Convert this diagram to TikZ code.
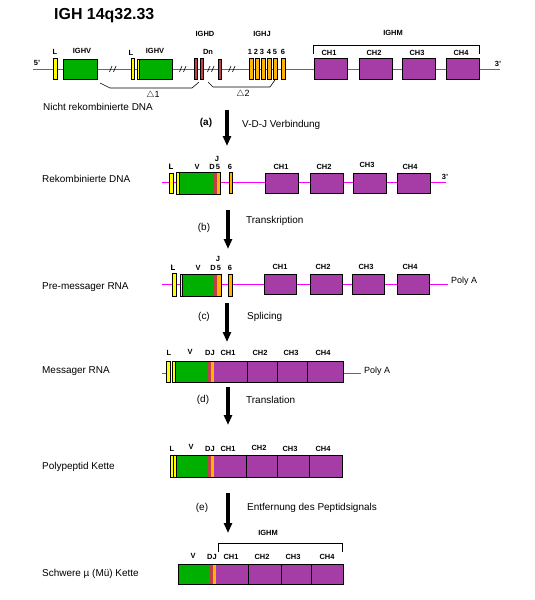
\documentclass[tikz,border=0pt]{standalone}
\usepackage{fontspec}
\setmainfont{Liberation Sans}
\usetikzlibrary{positioning,arrows.meta}
\definecolor{lgelb}{HTML}{FFFF00}
\definecolor{vgruen}{HTML}{00B000}
\definecolor{drot}{HTML}{BF4048}
\definecolor{jorange}{HTML}{FFB400}
\definecolor{clila}{HTML}{A63CA6}
\definecolor{dnalinie}{HTML}{FF00FF}
\tikzset{
dna/.style={draw=dnalinie, line width=1.3bp},
rand/.style={draw=black, line width=0.7pt},
lbl/.style={font=\fontsize{7.5}{8}\selectfont\bfseries, inner sep=0pt},
zeile/.style={anchor=west, font=\fontsize{10}{12}\selectfont, inner sep=0pt},
schritt/.style={anchor=west, font=\fontsize{10}{12}\selectfont, inner sep=0pt},
buchst/.style={font=\fontsize{10}{12}\selectfont, inner sep=0pt},
conv/.style={line width=4pt, -{Triangle[length=10pt,width=8pt]}},
bruch/.style={draw=black, line width=0.6pt}
}
\newcommand{\seg}[5]{\fill[#1] (#2,#4) rectangle (#3,#5);}
\newcommand{\exbox}[5]{\filldraw[rand, fill=#1] (#2,#4) rectangle (#3,#5);}
\newcommand{\brk}[1]{\draw[bruch] (#1-3.5,72) -- (#1-1,66) (#1+0.5,72) -- (#1+3,66);}
\begin{document}
\begin{tikzpicture}[x=1bp,y=-1bp]
\useasboundingbox (0,0) rectangle (535,600);
\fill[white] (0,0) rectangle (535,600);

\node[font=\fontsize{16}{18}\selectfont\bfseries, inner sep=0pt, anchor=west] (titel) at (54,16) {IGH 14q32.33};

% nicht rekombiniert
\coordinate (s1) at (33,69.5);
\coordinate (e1) at (500,69.5);
\draw[dna] (s1) -- (e1);
\exbox{lgelb}{53}{57}{58}{79}
\exbox{vgruen}{63}{97}{59}{79}
\exbox{lgelb}{131}{134}{58}{79}
\seg{lgelb}{137}{139}{59}{79}
\seg{vgruen}{139}{172}{59}{79}
\draw[rand] (137,59) rectangle (172,79) (139,59) -- (139,79);
\brk{113} \brk{183} \brk{211} \brk{232}
\exbox{drot}{194}{197}{58}{79}
\exbox{drot}{200}{203}{58}{79}
\exbox{drot}{218}{221}{59}{79}
\foreach \x in {249,255,261,267,273,281}
  \exbox{jorange}{\x}{\x+4}{58}{79}
\foreach \x in {314,359,402,446}
  \exbox{clila}{\x}{\x+33}{58}{79}
\draw[rand] (313,54) -- (313,45) -- (479,45) -- (479,54);
\draw[black, line width=0.6pt] (100,83) -- (110,88) -- (192,88) -- (199,82);
\draw[black, line width=0.6pt] (208,82) -- (213,87) -- (270,87) -- (275,80);
\node[lbl] (p5) at (37,63) {5'};
\node[lbl] (p3) at (498,64) {3'};
\node[lbl] (l1) at (55,52) {L};
\node[lbl] (v1) at (82,51) {IGHV};
\node[lbl] (l2) at (131,53) {L};
\node[lbl] (v2) at (155,51) {IGHV};
\node[lbl] (dh) at (205,34) {IGHD};
\node[lbl] (dn) at (208,52) {Dn};
\node[lbl] (jh) at (262,34) {IGHJ};
\foreach \x/\n in {250/1,256/2,262/3,269/4,275/5,283/6}
  \node[lbl] (j\n) at (\x,52) {\n};
\node[lbl] (mh) at (393,33) {IGHM};
\foreach \x/\n in {329/1,374/2,417/3,461/4}
  \node[lbl] (ch\n) at (\x,53) {CH\n};
\node[font=\fontsize{9}{10}\selectfont, inner sep=0pt] (d1) at (153,95) {$\triangle$1};
\node[font=\fontsize{9}{10}\selectfont, inner sep=0pt] (d2) at (243,94) {$\triangle$2};
\node[zeile] (z1) at (43,107) {Nicht rekombinierte DNA};

% (a)
\coordinate (a0) at (227,110);
\coordinate (a1) at (227,146);
\draw[conv] (a0) -- (a1);
\node[buchst, font=\fontsize{10}{12}\selectfont\bfseries] (ba) at (206,123) {(a)};
\node[schritt] (ta) at (242,125) {V-D-J Verbindung};

% rekombiniert
\coordinate (s2) at (162,182.5);
\coordinate (e2) at (446,182.5);
\draw[dna] (s2) -- (e2);
\exbox{lgelb}{169}{173}{173}{193}
\seg{lgelb}{176}{179}{172}{194}
\seg{vgruen}{179}{213}{172}{194}
\seg{drot}{213}{217}{172}{194}
\seg{jorange}{217}{220}{172}{194}
\draw[rand] (176,172) rectangle (220,194) (179,172) -- (179,194);
\exbox{jorange}{229}{232}{172}{193}
\foreach \x in {265,310,353,397}
  \exbox{clila}{\x}{\x+33}{173}{193}
\node[lbl] (rl) at (171,167) {L};
\node[lbl] (rv) at (197,167) {V};
\node[lbl] (rd) at (212,167) {D};
\node[lbl] (r5) at (218,167) {5};
\node[lbl] (rj) at (217,159) {J};
\node[lbl] (r6) at (230,167) {6};
\foreach \x/\n/\y in {281/1/167,324/2/167,367/3/165,410/4/167}
  \node[lbl] (rch\n) at (\x,\y) {CH\n};
\node[lbl] (r3) at (445,177) {3'};
\node[zeile] (z2) at (42,179) {Rekombinierte DNA};

% (b)
\coordinate (b0) at (228,210);
\coordinate (b1) at (228,249);
\draw[conv] (b0) -- (b1);
\node[buchst] (bb) at (204,228) {(b)};
\node[schritt] (tb) at (246,221) {Transkription};

% pre-messager
\coordinate (s3) at (162,284.5);
\coordinate (e3) at (448,284.5);
\draw[dna] (s3) -- (e3);
\exbox{lgelb}{172}{176}{273}{296}
\seg{lgelb}{180}{182}{274}{296}
\seg{vgruen}{182}{214}{274}{296}
\seg{drot}{214}{217}{274}{296}
\seg{jorange}{217}{221}{274}{296}
\draw[rand] (180,274) rectangle (221,296) (182,274) -- (182,296);
\exbox{jorange}{228}{232}{274}{296}
\foreach \x in {264,310,352,397}
  \exbox{clila}{\x}{\x+32}{274}{294}
\node[lbl] (pl) at (173,268) {L};
\node[lbl] (pv) at (198,268) {V};
\node[lbl] (pd) at (213,268) {D};
\node[lbl] (p5b) at (219,268) {5};
\node[lbl] (pj) at (218,259) {J};
\node[lbl] (p6) at (230,268) {6};
\foreach \x/\n in {280/1,323/2,366/3,410/4}
  \node[lbl] (pch\n) at (\x,267) {CH\n};
\node[schritt, font=\fontsize{9}{10}\selectfont] (pa1) at (451,281) {Poly A};
\node[zeile] (z3) at (42,287) {Pre-messager RNA};

% (c)
\coordinate (c0) at (227,303);
\coordinate (c1) at (227,342);
\draw[conv] (c0) -- (c1);
\node[buchst] (bc) at (204,317) {(c)};
\node[schritt] (tc) at (247,317) {Splicing};

% messager
\coordinate (s4) at (162,373.5);
\coordinate (e4) at (361,373.5);
\draw[dna] (s4) -- (166,373.5) (343,373.5) -- (e4);
\exbox{lgelb}{166}{170}{361}{382}
\seg{lgelb}{172}{175}{361}{382}
\seg{vgruen}{175}{207}{361}{382}
\seg{drot}{207}{211}{361}{382}
\seg{jorange}{211}{214}{361}{382}
\seg{clila}{214}{343}{361}{382}
\draw[rand] (172,361) rectangle (343,382);
\foreach \x in {175,247,277,307}
  \draw[rand] (\x,361) -- (\x,382);
\node[lbl] (ml) at (169,353) {L};
\node[lbl] (mv) at (190,352) {V};
\node[lbl] (mdj) at (210,353) {DJ};
\foreach \x/\n in {228/1,260/2,291/3,323/4}
  \node[lbl] (mch\n) at (\x,353) {CH\n};
\node[schritt, font=\fontsize{9}{10}\selectfont] (pa2) at (364,371) {Poly A};
\node[zeile] (z4) at (42,371) {Messager RNA};

% (d)
\coordinate (d0) at (228,387);
\coordinate (d1c) at (228,425);
\draw[conv] (d0) -- (d1c);
\node[buchst] (bd) at (203,400) {(d)};
\node[schritt] (td) at (246,400) {Translation};

% polypeptid
\seg{lgelb}{170}{176}{455}{477}
\seg{vgruen}{176}{207}{455}{477}
\seg{drot}{207}{211}{455}{477}
\seg{jorange}{211}{214}{455}{477}
\seg{clila}{214}{342}{455}{477}
\draw[rand] (170,455) rectangle (342,477);
\foreach \x in {173,176,246,277,309}
  \draw[rand] (\x,455) -- (\x,477);
\node[lbl] (kl) at (172,449) {L};
\node[lbl] (kv) at (191,447) {V};
\node[lbl] (kdj) at (210,449) {DJ};
\foreach \x/\n/\y in {228/1/449,259/2/448,290/3/449,323/4/449}
  \node[lbl] (kch\n) at (\x,\y) {CH\n};
\node[zeile] (z5) at (42,467) {Polypeptid Kette};

% (e)
\coordinate (f0) at (228,493);
\coordinate (f1) at (228,533);
\draw[conv] (f0) -- (f1);
\node[buchst] (be) at (202,508) {(e)};
\node[schritt] (te) at (247,508) {Entfernung des Peptidsignals};

% schwere kette
\seg{vgruen}{178}{209}{564}{584}
\seg{drot}{209}{213}{564}{584}
\seg{jorange}{213}{216}{564}{584}
\seg{clila}{216}{343}{564}{584}
\draw[rand] (178,564) rectangle (343,584);
\foreach \x in {248,281,311}
  \draw[rand] (\x,564) -- (\x,584);
\draw[rand] (218,552) -- (218,543) -- (342,543) -- (342,552);
\node[lbl] (smh) at (268,533) {IGHM};
\node[lbl] (sv) at (193,556) {V};
\node[lbl] (sdj) at (212,557) {DJ};
\foreach \x/\n in {231/1,262/2,293/3,327/4}
  \node[lbl] (sch\n) at (\x,557) {CH\n};
\node[zeile] (z6) at (42,574) {Schwere µ (Mü) Kette};
\end{tikzpicture}
\end{document}
